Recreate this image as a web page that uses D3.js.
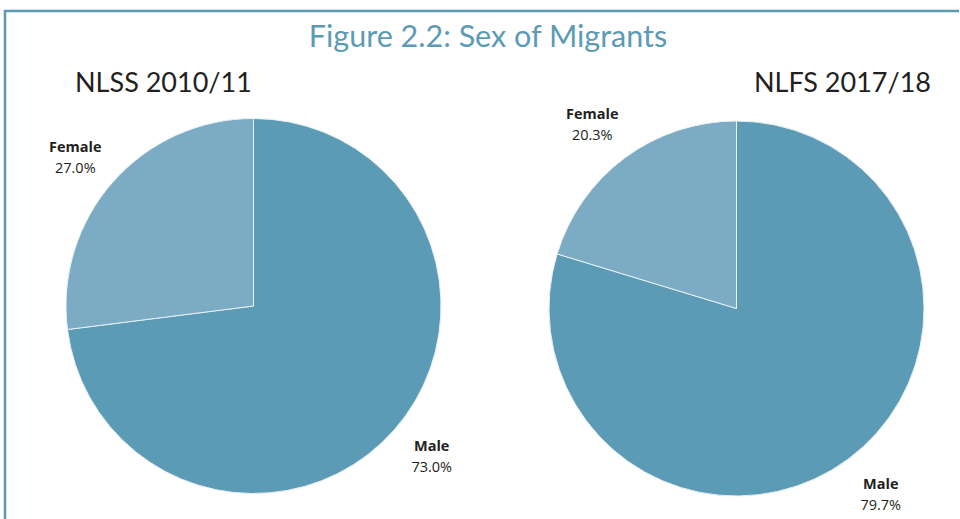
<!DOCTYPE html>
<html>
<head>
<meta charset="utf-8">
<script src="https://cdn.jsdelivr.net/npm/d3@7"></script>
<style>
  body { margin: 0; background: #fff; }
</style>
</head>
<body>
<div id="graph"></div>
<script>
var categories = ["Male", "Female"];
var nlssValues = [73.0, 27.0];
var nlfsValues = [79.7, 20.3];
var surveyNames = ["NLSS 2010/11", "NLFS 2017/18"];

var w = 960, h = 519;
var radius = 187.5;
var labelRadius = 229;
var labelStretchY = 1.04;
var labelShift = 2.5 * Math.PI / 180; // labels sit a bit counter-clockwise of the slice middle

var color = d3.scaleOrdinal()
    .domain(categories)
    .range(["#5b9bb5", "#7cabc4"]);

var svg = d3.select("#graph").append("svg")
    .attr("width", w)
    .attr("height", h);

// frame (left + top only)
svg.append("path")
    .attr("d", "M5,519 V11 H959")
    .style("fill", "none")
    .style("stroke", "#5b9bb5")
    .style("stroke-width", "2.5px");

svg.append("text")
    .attr("x", 488)
    .attr("y", 47)
    .style("text-anchor", "middle")
    .style("font-family", "Lato, 'Noto Sans', sans-serif")
    .style("font-size", "30.5px")
    .style("fill", "#5b9bb5")
    .text("Figure 2.2: Sex of Migrants");

var pie = d3.pie().sort(null).value(function(d) { return d.value; });
var arc = d3.arc().innerRadius(0).outerRadius(radius);
var labelArc = d3.arc().innerRadius(labelRadius).outerRadius(labelRadius);

function drawPie(values, cx, cy, title, titleX, titleAnchor) {
    var data = categories.map(function(c, i) { return {name: c, value: values[i]}; });

    svg.append("text")
        .attr("x", titleX)
        .attr("y", 92)
        .style("text-anchor", titleAnchor)
        .style("font-family", "Lato, 'Noto Sans', sans-serif")
        .style("font-size", "27px")
        .style("fill", "#231f20")
        .text(title);

    var g = svg.append("g")
        .attr("transform", "translate(" + cx + "," + cy + ")");

    g.selectAll(".slice")
        .data(pie(data))
        .enter().append("path")
        .attr("class", "slice")
        .attr("d", arc)
        .attr("fill", function(d) { return color(d.data.name); })
        .style("stroke", "#e8f0f4")
        .style("stroke-width", "1px");

    var labels = g.selectAll(".label")
        .data(pie(data))
        .enter().append("text")
        .attr("class", "label")
        .attr("transform", function(d) {
            var c = labelArc.centroid({startAngle: d.startAngle - labelShift, endAngle: d.endAngle - labelShift});
            return "translate(" + c[0] + "," + (c[1] * labelStretchY - 1.5) + ")";
        })
        .style("text-anchor", "middle")
        .style("font-family", "'Open Sans', sans-serif")
        .style("font-size", "14.5px")
        .style("fill", "#231f20");

    labels.append("tspan")
        .attr("x", 0)
        .attr("dy", "-0.2em")
        .style("font-weight", "bold")
        .text(function(d) { return d.data.name; });

    labels.append("tspan")
        .attr("x", 0)
        .attr("dy", "1.45em")
        .text(function(d) { return d.data.value.toFixed(1) + "%"; });
}

drawPie(nlssValues, 253.5, 306, surveyNames[0], 75, "start");
drawPie(nlfsValues, 736.5, 308.5, surveyNames[1], 931, "end");
</script>
</body>
</html>
